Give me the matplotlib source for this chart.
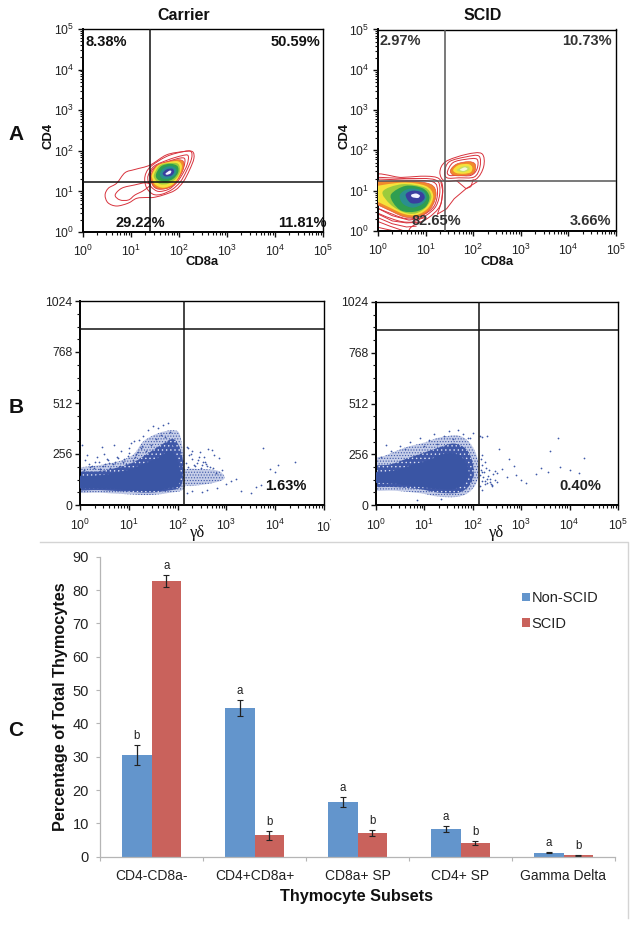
import numpy as np
import matplotlib
matplotlib.use('Agg')
import matplotlib.pyplot as plt
from matplotlib.lines import Line2D
from matplotlib.patches import PathPatch
from matplotlib.path import Path
from matplotlib.ticker import FixedLocator, LogLocator, MultipleLocator, NullFormatter

plt.rcParams['font.family'] = ['Liberation Sans', 'DejaVu Sans']
plt.rcParams['mathtext.default'] = 'regular'
plt.rcParams['hatch.linewidth'] = 0.5

W, H = 639, 927

# ---- panel A: contour outlines, (log10 CD8a, log10 CD4)
carrier_lines = [
    [(.46,.91),(.53,1.08),(.70,1.20),(.875,1.46),(1.08,1.54),(1.40,1.65),(1.74,1.90),(2.09,1.98),(2.28,1.98),
     (2.31,1.81),(2.22,1.53),(2.09,1.24),(1.92,1.03),(1.67,.91),(1.46,.85),(1.33,.85),(1.12,.83),(.94,.71),(.70,.64),(.52,.72)],
    [(.67,.91),(.81,1.08),(1.08,1.16),(1.29,1.21),(1.40,1.16),(1.26,1.02),(1.08,.91),(.95,.79),(.77,.79)],
    [(1.29,1.36),(1.40,1.60),(1.74,1.86),(2.09,1.98),(2.25,1.98),(2.26,1.80),(2.15,1.49),(2.03,1.24),(1.86,1.05),(1.64,.93),(1.46,.93),(1.32,1.10)],
    [(1.36,1.40),(1.48,1.62),(1.78,1.78),(2.06,1.88),(2.19,1.88),(2.17,1.66),(2.06,1.40),(1.94,1.20),(1.78,1.05),(1.57,1.00),(1.43,1.10),(1.36,1.24)],
    [(1.40,1.42),(1.52,1.62),(1.78,1.74),(2.02,1.82),(2.12,1.80),(2.10,1.60),(2.00,1.36),(1.88,1.18),(1.74,1.08),(1.56,1.06),(1.45,1.16)],
]
carrier_fills = [
    [(1.42,1.42),(1.54,1.64),(1.78,1.74),(2.00,1.78),(2.10,1.72),(2.08,1.52),(1.98,1.30),(1.86,1.13),(1.68,1.06),(1.50,1.10),(1.42,1.26)],
    [(1.44,1.42),(1.56,1.64),(1.78,1.72),(1.98,1.74),(2.06,1.62),(2.00,1.38),(1.88,1.18),(1.68,1.09),(1.51,1.16),(1.45,1.30)],
    [(1.48,1.42),(1.60,1.64),(1.80,1.70),(1.98,1.68),(2.02,1.50),(1.94,1.32),(1.78,1.19),(1.60,1.18),(1.50,1.30)],
    [(1.52,1.42),(1.63,1.62),(1.82,1.68),(1.97,1.62),(1.98,1.46),(1.88,1.31),(1.72,1.24),(1.56,1.29)],
    [(1.60,1.43),(1.69,1.58),(1.84,1.62),(1.94,1.55),(1.92,1.41),(1.80,1.32),(1.66,1.32)],
    [(1.66,1.44),(1.74,1.54),(1.86,1.56),(1.90,1.48),(1.84,1.39),(1.72,1.37)],
    [(1.72,1.44),(1.80,1.51),(1.84,1.50),(1.82,1.44),(1.75,1.41)],
]
scid_lines = [
    [(-.2,1.30),(.5,1.33),(1.0,1.36),(1.28,1.30),(1.36,1.05),(1.30,.62),(1.05,.32),(.7,.1),(.5,-.2),(-.2,-.2)],
    [(-.2,1.27),(.6,1.30),(1.2,1.27),(1.30,1.0),(1.22,.62),(1.0,.38),(.7,.22),(.3,.3),(-.2,.62)],
    [(-.2,1.24),(.6,1.26),(1.15,1.22),(1.25,.98),(1.18,.62),(.95,.40),(.65,.30),(.3,.42),(-.2,.72)],
    [(1.30,1.46),(1.42,1.72),(1.85,1.90),(2.18,1.92),(2.22,1.60),(2.05,1.28),(1.7,1.26),(1.40,1.24)],
    [(1.40,1.48),(1.5,1.72),(1.85,1.84),(2.12,1.86),(2.14,1.58),(2.02,1.34),(1.7,1.32),(1.45,1.32)],
    [(1.46,1.48),(1.58,1.7),(1.85,1.78),(2.08,1.78),(2.08,1.54),(1.95,1.38),(1.68,1.38),(1.5,1.38)],
]
scid_open = [
    [(-.1,.12),(.15,.05),(.35,0)],
    [(-.1,.28),(.25,.12),(.55,0)],
    [(-.1,.38),(.3,.18),(.6,.1),(.8,.12)],
    [(-.1,.48),(.3,.25),(.6,.2),(.9,.22)],
    [(-.1,.62),(.3,.38),(.65,.27),(1.0,.33)],
    [(1.25,.42),(1.44,.55),(1.60,.8),(1.85,1.05),(2.08,1.22)],
    [(1.65,1.25),(1.85,1.05),(1.95,1.10),(2.0,1.27)],
    [(1.32,1.22),(1.36,1.0),(1.33,.7),(1.25,.42)],
]
scid_fills = [
    [(-.2,1.18),(.6,1.24),(1.1,1.16),(1.22,.92),(1.12,.58),(.9,.38),(.6,.34),(.3,.48),(-.2,.8)],
    [(-.2,1.06),(.5,1.2),(1.0,1.12),(1.16,.88),(1.06,.58),(.82,.4),(.55,.42),(.25,.58),(-.2,.86)],
    [(.10,.98),(.5,1.16),(.98,1.08),(1.12,.86),(1.02,.6),(.8,.44),(.55,.46),(.26,.66)],
    [(.28,.92),(.58,1.12),(.94,1.06),(1.08,.85),(1.0,.60),(.78,.48),(.50,.50),(.32,.70)],
    [(.46,.90),(.66,1.05),(.94,1.00),(1.02,.82),(.92,.66),(.72,.58),(.52,.68)],
    [(.58,.90),(.72,1.00),(.92,.96),(.98,.82),(.87,.70),(.68,.70)],
    [(.7,.9),(.8,.93),(.88,.88),(.84,.82),(.72,.84)],
    [(1.52,1.5),(1.65,1.66),(1.9,1.72),(2.04,1.66),(2.02,1.45),(1.85,1.38),(1.6,1.38)],
    [(1.58,1.52),(1.7,1.64),(1.9,1.66),(1.98,1.58),(1.95,1.46),(1.8,1.42),(1.64,1.44)],
    [(1.66,1.52),(1.78,1.6),(1.9,1.6),(1.92,1.52),(1.8,1.46),(1.7,1.48)],
    [(1.72,1.52),(1.82,1.58),(1.88,1.54),(1.8,1.49)],
]
carrier_fill_colors = ['#f08a2c', '#f6e23c', '#9ccb3c', '#2f9e50', '#2a8f8f', '#3a3f9f', '#f2f2ff']
scid_fill_colors = ['#f08a2c', '#f6e23c', '#9ccb3c', '#2f9e50', '#2a8f8f', '#3a3f9f', '#f2f2ff',
                    '#f08a2c', '#f6e23c', '#c6de60', '#f4f8d8']

# ---- panel B: dense regions and stray events, (log10 gamma-delta, side scatter)
carrier_core = [(-.1,90),(.3,85),(.8,80),(1.2,75),(1.5,72),(1.8,85),(2.0,95),(2.05,150),(2.0,220),(1.85,270),
                (1.6,235),(1.4,215),(1.15,190),(.9,170),(.6,155),(.3,145),(-.1,140)]
carrier_mid = [(-.1,80),(.4,75),(.9,68),(1.4,62),(1.8,72),(2.05,90),(2.12,160),(2.08,260),(1.92,330),(1.65,300),
               (1.4,260),(1.1,215),(.8,190),(.4,170),(-.1,160)]
carrier_halo = [(-.1,70),(-.1,175),(.4,200),(.8,220),(1.1,255),(1.3,320),(1.6,360),(1.9,375),(2.05,350),(2.14,200),
                (2.14,85),(1.8,60),(1.4,50),(.9,55),(.4,62)]
carrier_side = [(2.14,100),(2.6,105),(2.95,130),(2.85,170),(2.5,180),(2.14,175)]
carrier_x = [2.22,2.24,2.3,2.4,2.5,2.46,2.55,2.6,2.7,2.62,2.75,2.85,2.9,3.0,3.1,3.2,3.3,3.5,3.6,3.7,3.75,3.9,4.0,4.05,4.4,
             2.2,2.3,2.5,2.6,2.8,.05,.1,.15,.2,.3,.35,.45,.5,.6,.7,.75,.85,.9,1.0,1.05,1.15,1.2,1.25,1.3,1.35,1.4,1.45,1.5,
             1.55,1.6,1.65,1.7,1.75,1.8,1.85,1.9,.25,.55,.65,.95,1.1,1.0,.4,
             .08,.18,.28,.38,.48,.58,.68,.78,.88,.98,1.08,1.18,1.28,1.02,1.12,.62,.72,.82,.42,.52,
             2.18,2.22,2.28,2.34,2.42,2.52,2.58,2.66,2.72,2.78,2.2,2.3,2.36,2.44,2.48,2.56]
carrier_v = [285,250,230,210,200,265,240,195,275,280,250,235,175,105,120,130,70,60,90,100,285,180,165,200,215,
             60,70,65,75,85,300,225,250,190,215,240,290,255,210,300,240,270,230,285,310,255,325,285,345,270,375,300,395,
             330,385,350,400,340,410,365,300,195,230,175,205,320,260,180,
             175,205,185,215,195,225,205,235,215,245,225,265,295,205,240,185,215,195,180,205,
             210,190,255,200,225,215,205,190,185,160,290,270,195,240,185,215]
scid_core = [(-.1,118),(.3,110),(.7,100),(1.0,90),(1.3,82),(1.6,82),(1.8,105),(1.9,150),(1.88,200),(1.75,245),
             (1.55,262),(1.3,250),(1.1,225),(.8,205),(.5,180),(.2,165),(-.1,160)]
scid_mid = [(-.1,100),(.4,90),(.9,80),(1.3,62),(1.7,62),(1.92,95),(2.02,150),(1.98,230),(1.85,285),(1.6,310),
            (1.3,290),(1.0,265),(.7,240),(.3,205),(-.1,190)]
scid_halo = [(-.1,85),(.4,72),(.9,60),(1.3,42),(1.7,42),(1.95,70),(2.1,130),(2.1,230),(1.95,310),(1.7,350),
             (1.3,340),(1.0,315),(.6,290),(.2,250),(-.1,220)]
scid_x = [2.15,2.2,2.3,2.18,2.25,2.35,2.4,2.5,2.55,2.6,2.7,2.75,2.85,2.9,3.0,3.1,3.3,3.4,3.55,3.6,3.75,3.8,4.0,4.2,4.3,
          2.2,2.3,2.4,2.45,.9,1.0,1.1,1.2,1.25,1.4,1.5,1.6,1.7,1.8,1.9,.5,.6,.7,.3,.2,.1,1.95,2.0,.85,1.35,
          2.14,2.16,2.18,2.2,2.22,2.24,2.26,2.28,2.32,2.36,2.16,2.2,2.26,2.3,2.34,2.38,2.42,2.46,2.5,2.14]
scid_v = [350,345,350,165,120,130,100,160,280,180,140,230,195,150,125,110,155,185,165,270,340,190,175,160,235,
          75,110,95,170,340,300,330,360,310,350,375,335,380,360,340,300,280,320,270,305,240,340,365,25,30,
          150,175,120,200,140,165,105,185,145,115,230,250,215,130,175,105,155,125,115,95]

# ---- panel C: bar chart
subsets = ['CD4-CD8a-', 'CD4+CD8a+', 'CD8a+ SP', 'CD4+ SP', 'Gamma Delta']
non_scid = [30.4, 44.6, 16.4, 8.4, 1.2]
scid = [82.6, 6.4, 7.0, 4.1, 0.5]
non_scid_err = [3.0, 2.3, 1.4, 0.9, 0.2]
scid_err = [1.8, 1.4, 0.9, 0.6, 0.15]
non_scid_letters = ['b', 'a', 'a', 'a', 'a']
scid_letters = ['a', 'b', 'b', 'b', 'b']


def make_axes(left, top, right, bottom):
    return fig.add_axes([left / W, 1 - bottom / H, (right - left) / W, (bottom - top) / H])


def px_text(x, y, s, **kw):
    kw.setdefault('va', 'center')
    fig.text(x / W, 1 - y / H, s, **kw)


def blob(points, log_y=True):
    # closed bezier through the read points
    p = np.array(points, dtype=float)
    n = len(p)
    verts = [p[0]]
    codes = [Path.MOVETO]
    for i in range(n):
        p0, p1, p2, p3 = p[i - 1], p[i], p[(i + 1) % n], p[(i + 2) % n]
        verts += [p1 + (p2 - p0) / 6, p2 - (p3 - p1) / 6, p2]
        codes += [Path.CURVE4] * 3
    verts = np.array(verts)
    ys = 10 ** verts[:, 1] if log_y else verts[:, 1]
    return Path(np.column_stack([10 ** verts[:, 0], ys]), codes)


def log_ticks(axis):
    axis.set_major_locator(LogLocator(base=10, numticks=10))
    axis.set_minor_locator(LogLocator(base=10, subs=range(2, 10), numticks=10))
    axis.set_minor_formatter(NullFormatter())


def style_flow(ax):
    ax.spines['left'].set_linewidth(1.4)
    ax.spines['bottom'].set_linewidth(1.4)
    ax.spines['top'].set_linewidth(1.0)
    ax.spines['right'].set_linewidth(1.0)
    ax.tick_params(which='major', length=3.5, width=1.0, labelsize=8.8, color='#111111', labelcolor='#222222')
    ax.tick_params(which='minor', length=2, width=0.8, color='#111111')
    ax.set_axisbelow(False)


def contour_panel(box, lines, fills, fill_colors, opens, gate_x, gate_y, gate_color):
    ax = make_axes(*box)
    ax.set_xscale('log')
    ax.set_yscale('log')
    ax.set_xlim(1, 1e5)
    ax.set_ylim(1, 1e5)
    log_ticks(ax.xaxis)
    log_ticks(ax.yaxis)
    ax.set_xticks([10 ** i for i in range(6)], ['$10^{%d}$' % i for i in range(6)])
    ax.set_yticks([10 ** i for i in range(6)], ['$10^{%d}$' % i for i in range(6)])
    style_flow(ax)
    ax.tick_params(axis='x', which='major', pad=5)
    ax.tick_params(axis='y', which='major', pad=3)
    for pts in lines:
        ax.add_patch(PathPatch(blob(pts), fc='none', ec='#d8323c', lw=0.7, zorder=2))
    for pts in opens:
        p = np.array(pts)
        ax.plot(10 ** p[:, 0], 10 ** p[:, 1], color='#d8323c', lw=0.7, zorder=2)
    for pts, c in zip(fills, fill_colors):
        ax.add_patch(PathPatch(blob(pts), fc=c, ec='#e8503a' if c == '#f08a2c' else 'none', lw=0.5, zorder=3))
    ax.axvline(gate_x, color=gate_color, lw=1.1, zorder=4)
    ax.axhline(gate_y, color=gate_color, lw=1.1, zorder=4)
    return ax


def scatter_panel(box, core, mid, halo, sides, xs, vs, gate_x, gate_v):
    ax = make_axes(*box)
    ax.set_xscale('log')
    ax.set_xlim(1, 1e5)
    ax.set_ylim(0, 1024)
    log_ticks(ax.xaxis)
    ax.set_xticks([10 ** i for i in range(6)], ['$10^{%d}$' % i for i in range(6)])
    ax.set_yticks([0, 256, 512, 768, 1024])
    ax.yaxis.set_minor_locator(MultipleLocator(64))
    style_flow(ax)
    ax.tick_params(axis='x', which='major', pad=6)
    ax.tick_params(axis='y', which='major', pad=2)
    for pts in [halo] + sides:
        ax.add_patch(PathPatch(blob(pts, log_y=False), fc='#c5cde8', ec='#3f58a8', lw=0, hatch='......', zorder=2))
    # speckled zone, blue with white dots
    ax.add_patch(PathPatch(blob(mid, log_y=False), fc='#3f58a8', ec='#dfe4f5', lw=0, hatch='....', zorder=2.5))
    ax.add_patch(PathPatch(blob(core, log_y=False), fc='#3a55a4', ec='#3a55a4', lw=0.5, zorder=3))
    ax.scatter(10 ** np.array(xs), vs, s=1.6, color='#3f58a8', lw=0, zorder=3)
    ax.axvline(gate_x, color='#111111', lw=1.1, zorder=4)
    ax.axhline(gate_v, color='#111111', lw=1.1, zorder=4)
    return ax


fig = plt.figure(figsize=(W / 100, H / 100), dpi=100, facecolor='white')

contour_panel((83, 29, 323, 232), carrier_lines, carrier_fills, carrier_fill_colors, [], 10 ** 1.40, 10 ** 1.23, '#111111')
contour_panel((378, 29.5, 616, 231), scid_lines, scid_fills, scid_fill_colors, scid_open, 10 ** 1.41, 10 ** 1.24, '#555555')

ax_b1 = scatter_panel((80, 301, 324, 505), carrier_core, carrier_mid, carrier_halo, [carrier_side], carrier_x, carrier_v, 10 ** 2.14, 885)
ax_b1.set_xticklabels(['$10^{%d}$' % i for i in range(5)] + ["$10^{'}$"])
scatter_panel((376, 302, 618, 505), scid_core, scid_mid, scid_halo, [], scid_x, scid_v, 10 ** 2.13, 885)

# bars
ax = make_axes(100, 556.7, 615, 856.7)
x = np.arange(len(subsets))
bar_w = 0.286
err_kw = dict(ecolor='#222222', elinewidth=0.9, capsize=2.2, capthick=0.8)
ax.bar(x - bar_w / 2, non_scid, bar_w, yerr=non_scid_err, color='#6395cc', error_kw=err_kw, label='Non-SCID')
ax.bar(x + bar_w / 2, scid, bar_w, yerr=scid_err, color='#c9625c', error_kw=err_kw, label='SCID')
for i in range(len(subsets)):
    ax.text(x[i] - bar_w / 2, non_scid[i] + non_scid_err[i] + 2.7, non_scid_letters[i], ha='center', va='center', fontsize=8.3, color='#222222')
    ax.text(x[i] + bar_w / 2, scid[i] + scid_err[i] + 2.7, scid_letters[i], ha='center', va='center', fontsize=8.3, color='#222222')
ax.set_xlim(-0.5, 4.5)
ax.set_ylim(0, 90)
ax.set_yticks(range(0, 100, 10))
ax.xaxis.set_major_locator(FixedLocator(np.arange(-0.5, 5, 1)))
ax.xaxis.set_major_formatter(NullFormatter())
ax.xaxis.set_minor_locator(FixedLocator(x))
ax.set_xticklabels(subsets, minor=True)
ax.tick_params(axis='x', which='minor', length=0, pad=9, labelsize=10, labelcolor='#222222')
ax.tick_params(axis='x', which='major', length=3, color='#b5b5b5', width=0.8)
ax.tick_params(axis='y', length=3, color='#b5b5b5', width=0.8, pad=5, labelsize=10.5, labelcolor='#222222')
for s in ['top', 'right']:
    ax.spines[s].set_visible(False)
for s in ['left', 'bottom']:
    ax.spines[s].set_color('#b5b5b5')
    ax.spines[s].set_linewidth(0.9)
ax.legend(loc='upper left', bbox_to_anchor=(0.82, 0.885), frameon=False, fontsize=10.5, handlelength=0.55, handleheight=0.55,
          handletextpad=0.1, labelspacing=0.8, borderaxespad=0, borderpad=0, labelcolor='#222222')

# frame around panel C
fig.add_artist(Line2D([40 / W, 628 / W, 628 / W], [1 - 542 / H, 1 - 542 / H, 1 - 918 / H], color='#d4d4d4', lw=1.0))

# shared text
px_text(184, 15, 'Carrier', ha='center', fontsize=11.5, fontweight='bold', color='#111111')
px_text(483, 15, 'SCID', ha='center', fontsize=11.5, fontweight='bold', color='#111111')
px_text(16, 134, 'A', ha='center', fontsize=15, fontweight='bold', color='#111111')
px_text(16, 407, 'B', ha='center', fontsize=15, fontweight='bold', color='#111111')
px_text(16, 731, 'C', ha='center', fontsize=15, fontweight='bold', color='#111111')

for px, py, s, ha, col in [(85, 42, '8.38%', 'left', '#111111'), (320, 42, '50.59%', 'right', '#111111'),
                           (116, 223, '29.22%', 'left', '#111111'), (327, 223, '11.81%', 'right', '#111111'),
                           (380, 41, '2.97%', 'left', '#333333'), (612, 41, '10.73%', 'right', '#333333'),
                           (411, 221, '82.65%', 'left', '#333333'), (611, 221, '3.66%', 'right', '#333333'),
                           (265, 486, '1.63%', 'left', '#111111'), (559, 486, '0.40%', 'left', '#222222')]:
    px_text(px, py, s, ha=ha, fontsize=10.5, fontweight='bold', color=col, zorder=6)

px_text(202, 262, 'CD8a', ha='center', fontsize=9.4, fontweight='bold', color='#111111')
px_text(497, 262, 'CD8a', ha='center', fontsize=9.4, fontweight='bold', color='#111111')
px_text(48, 136, 'CD4', ha='center', rotation=90, fontsize=9.4, fontweight='bold', color='#111111')
px_text(344, 136, 'CD4', ha='center', rotation=90, fontsize=9.4, fontweight='bold', color='#111111')
px_text(198, 533, 'γδ', ha='center', fontsize=12, family=['Liberation Serif', 'DejaVu Serif'], color='#111111')
px_text(497, 533, 'γδ', ha='center', fontsize=12, family=['Liberation Serif', 'DejaVu Serif'], color='#111111')
px_text(61, 707, 'Percentage of Total Thymocytes', ha='center', rotation=90, fontsize=11.7, fontweight='bold', color='#111111')
px_text(357, 896, 'Thymocyte Subsets', ha='center', fontsize=11.7, fontweight='bold', color='#111111')

fig.savefig('out.png', dpi=100)
